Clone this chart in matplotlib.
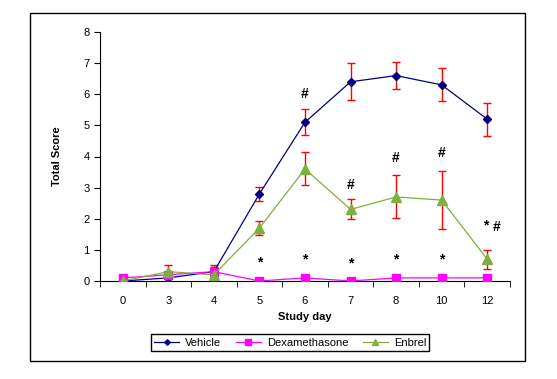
import numpy as np
import matplotlib
matplotlib.use('Agg')
import matplotlib.pyplot as plt
from matplotlib.patches import Rectangle

plt.rcParams['font.family'] = ['Liberation Sans', 'DejaVu Sans']

days = ['0', '3', '4', '5', '6', '7', '8', '10', '12']

vehicle = [0, 0.1, 0.3, 2.8, 5.1, 6.4, 6.6, 6.3, 5.2]
vehicle_err = [0, 0, 0.2, 0.23, 0.42, 0.6, 0.43, 0.53, 0.53]

dexa = [0.1, 0.2, 0.3, 0, 0.1, 0, 0.1, 0.1, 0.1]
dexa_err = [0, 0, 0.15, 0, 0, 0, 0, 0, 0]

enbrel = [0, 0.3, 0.2, 1.7, 3.6, 2.3, 2.7, 2.6, 0.7]
enbrel_err = [0, 0.2, 0, 0.22, 0.53, 0.32, 0.69, 0.93, 0.3]

# significance marks: (x offset from category index, y, text)
stars = [(3, 0.6), (4, 0.7), (5, 0.55), (6, 0.7), (7, 0.7), (7.97, 1.8)]
hashes = [(4, 6.0), (5, 3.1), (6, 3.95), (7, 4.1), (8.2, 1.72)]

x = np.arange(len(days))

fig = plt.figure(figsize=(5.57, 3.79), dpi=100)
ax = fig.add_axes([100/557, 1 - 281/379, 410/557, 249/379])

for vals, err in [(vehicle, vehicle_err), (dexa, dexa_err), (enbrel, enbrel_err)]:
    ax.errorbar(x, vals, yerr=err, fmt='none', ecolor='red', elinewidth=1,
                capsize=3, capthick=1, zorder=2)

ax.plot(x, vehicle, color='#000080', marker='D', markersize=4, lw=0.9, label='Vehicle', zorder=3)
ax.plot(x, dexa, color='#FF00FF', marker='s', markersize=6, lw=0.9, label='Dexamethasone', zorder=3)
ax.plot(x, enbrel, color='#7FAF3F', marker='^', markersize=7, lw=0.9, label='Enbrel', zorder=3)

for xi, y in stars:
    ax.text(xi, y, '*', ha='center', va='center', fontsize=10, fontweight='bold')
for xi, y in hashes:
    ax.text(xi, y, '#', ha='center', va='center', fontsize=10, fontweight='bold')

ax.set_xlim(-0.5, len(days) - 0.5)
ax.set_ylim(0, 8)
ax.set_yticks(range(0, 9))
ax.set_xticks(x)
ax.set_xticklabels(days)
ax.set_xticks(np.arange(-0.5, len(days)), minor=True)
ax.tick_params(axis='x', which='major', length=0, pad=11, labelsize=8)
ax.tick_params(axis='x', which='minor', direction='out', length=4)
ax.tick_params(axis='y', direction='out', length=4, labelsize=8)
ax.spines['top'].set_visible(False)
ax.spines['right'].set_visible(False)

ax.set_xlabel('Study day', fontsize=8, fontweight='bold', labelpad=4)
ax.set_ylabel('Total Score', fontsize=8, fontweight='bold', labelpad=15)

fig.legend(loc='center', bbox_to_anchor=(290/557, 1 - 342.5/379), ncol=3, fontsize=8,
           frameon=True, fancybox=False, edgecolor='black', framealpha=1,
           handlelength=2.3, handletextpad=0.5, columnspacing=1.3, borderpad=0.3,
           markerscale=0.7)

fig.patches.append(Rectangle((29.5/557, 1 - 361/379), (525 - 29.5)/557, (361 - 12.5)/379,
                             transform=fig.transFigure, fill=False, edgecolor='black', lw=1))

fig.savefig('out.png', dpi=100)
